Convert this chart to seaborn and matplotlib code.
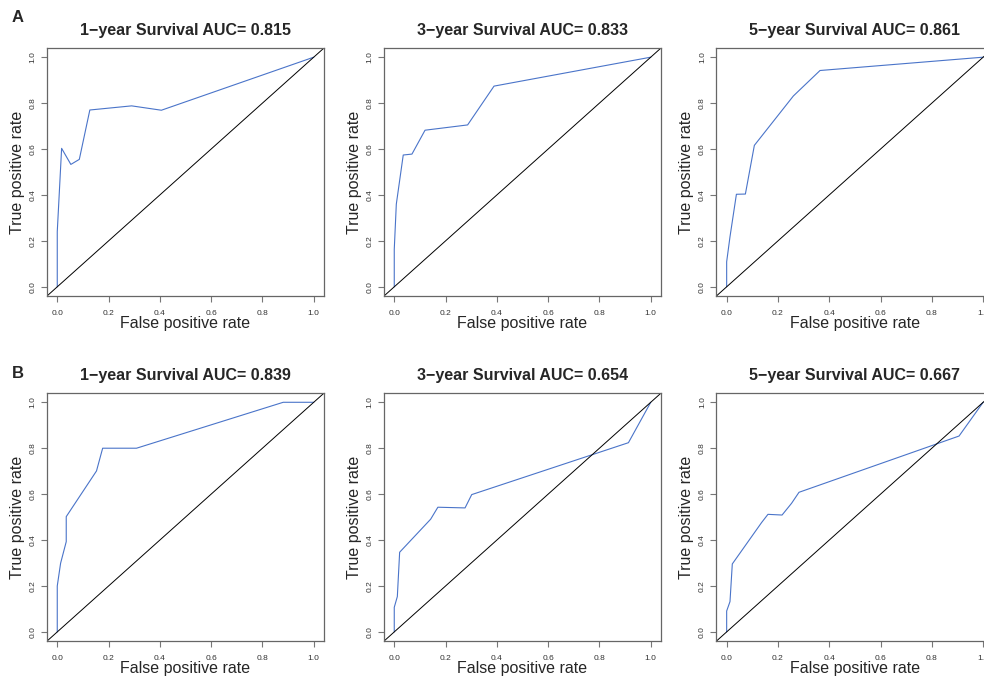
import matplotlib
matplotlib.use("Agg")
import matplotlib.pyplot as plt
import seaborn as sns
import pandas as pd

sns.set_style("white")
plt.rcParams['font.family'] = ['Liberation Sans', 'DejaVu Sans']

titles = [
    "1\u2212year Survival AUC= 0.815", "3\u2212year Survival AUC= 0.833", "5\u2212year Survival AUC= 0.861",
    "1\u2212year Survival AUC= 0.839", "3\u2212year Survival AUC= 0.654", "5\u2212year Survival AUC= 0.667",
]
panel_letters = ["A", "B"]

# ROC curves (false positive rate, true positive rate)
a1_fpr = [0, 0, 0.017, 0.053, 0.086, 0.127, 0.29, 0.406, 1.0]
a1_tpr = [0, 0.24, 0.603, 0.533, 0.555, 0.770, 0.788, 0.769, 1.0]

a2_fpr = [0, 0, 0.008, 0.035, 0.069, 0.12, 0.286, 0.389, 1.0]
a2_tpr = [0, 0.163, 0.36, 0.574, 0.578, 0.682, 0.705, 0.874, 1.0]

a3_fpr = [0, 0, 0.013, 0.038, 0.073, 0.108, 0.26, 0.364, 1.0]
a3_tpr = [0, 0.109, 0.218, 0.403, 0.404, 0.616, 0.831, 0.942, 1.0]

b1_fpr = [0, 0, 0.013, 0.035, 0.035, 0.153, 0.177, 0.309, 0.881, 1.0]
b1_tpr = [0, 0.2, 0.299, 0.393, 0.502, 0.701, 0.8, 0.8, 1.0, 1.0]

b2_fpr = [0, 0, 0.012, 0.021, 0.142, 0.17, 0.276, 0.302, 0.913, 1.0]
b2_tpr = [0, 0.107, 0.154, 0.347, 0.491, 0.543, 0.540, 0.598, 0.824, 1.0]

b3_fpr = [0, 0, 0.013, 0.022, 0.136, 0.161, 0.216, 0.253, 0.282, 0.906, 1.0]
b3_tpr = [0, 0.091, 0.132, 0.296, 0.476, 0.512, 0.509, 0.56, 0.608, 0.853, 1.0]

curves = [(a1_fpr, a1_tpr), (a2_fpr, a2_tpr), (a3_fpr, a3_tpr),
          (b1_fpr, b1_tpr), (b2_fpr, b2_tpr), (b3_fpr, b3_tpr)]
ticks = [0.0, 0.2, 0.4, 0.6, 0.8, 1.0]
tick_labels = ["0.0", "0.2", "0.4", "0.6", "0.8", "1.0"]

W, H = 984, 682
fig = plt.figure(figsize=(W / 100, H / 100), dpi=100)

lefts = [47, 384, 716.4]
tops = [48, 393.1]
aw, ah = 277, 248

blue = "#4A74C9"
for i, (fpr, tpr) in enumerate(curves):
    r, c = divmod(i, 3)
    ax = fig.add_axes([lefts[c] / W, (H - tops[r] - ah) / H, aw / W, ah / H])
    df = pd.DataFrame({"fpr": fpr, "tpr": tpr})
    sns.lineplot(data=df, x="fpr", y="tpr", sort=False, estimator=None,
                 color=blue, linewidth=0.8, ax=ax)
    ax.axline((0, 0), (1, 1), color="black", linewidth=0.7)
    ax.set_xlim(-0.04, 1.04)
    ax.set_ylim(-0.04, 1.04)
    ax.set_xticks(ticks)
    ax.set_xticklabels(tick_labels)
    ax.set_yticks(ticks)
    ax.set_yticklabels(tick_labels, rotation=90, va="center")
    ax.tick_params(axis="both", length=4, width=0.8, color="#777777",
                   labelsize=6, labelcolor="#333333", pad=6, direction="out",
                   bottom=True, left=True)
    ax.tick_params(axis="y", pad=3.5)
    for s in ax.spines.values():
        s.set_color("#666666")
        s.set_linewidth(0.9)
    ax.set_title(titles[i], fontsize=11.5, fontweight="bold", pad=9.5)
    ax.set_xlabel("False positive rate", fontsize=11.5)
    ax.set_ylabel("True positive rate", fontsize=11.5)
    ax.xaxis.set_label_coords(0.5, -32 / ah)
    ax.xaxis.label.set_va("baseline")
    ax.yaxis.label.set_rotation_mode("anchor")
    ax.yaxis.label.set_va("baseline")
    ax.yaxis.label.set_ha("center")
    ax.yaxis.set_label_coords(-25 / aw, 0.5)

fig.text(18 / W, 1 - 17 / H, panel_letters[0], fontsize=12, fontweight="bold",
         ha="center", va="center")
fig.text(18 / W, 1 - 373 / H, panel_letters[1], fontsize=12, fontweight="bold",
         ha="center", va="center")

fig.savefig("out.png", dpi=100)
